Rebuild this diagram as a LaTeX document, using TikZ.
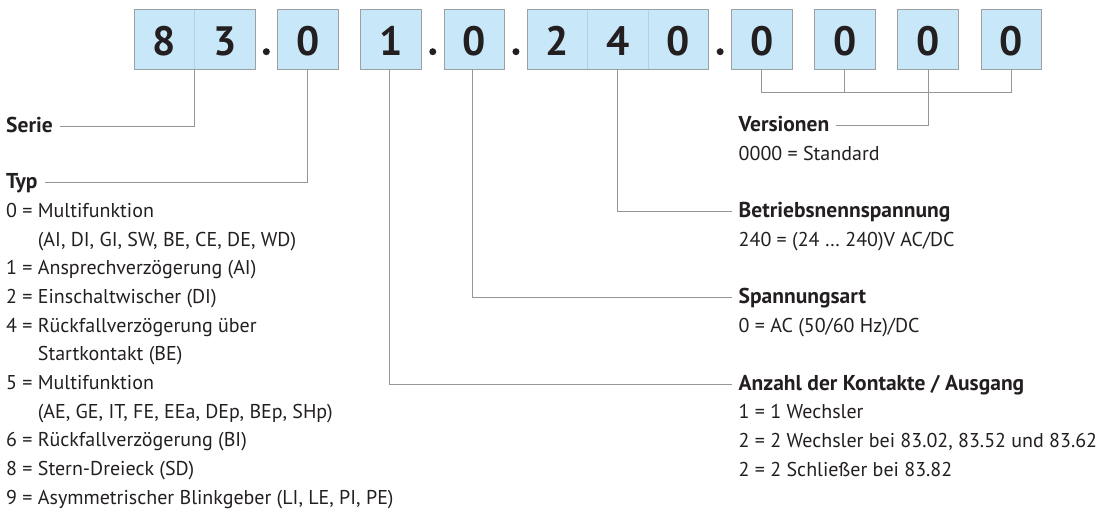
\documentclass[tikz,border=0pt]{standalone}
\usepackage{fontspec}
\setmainfont{PT Sans}
\usetikzlibrary{positioning}
\definecolor{boxfill}{RGB}{200,232,249}
\definecolor{boxline}{RGB}{155,160,163}
\definecolor{cellline}{RGB}{178,210,228}
\definecolor{linegray}{RGB}{150,150,150}
\definecolor{ink}{RGB}{35,31,32}
\tikzstyle{digit}=[draw=boxline,fill=boxfill,line width=1pt,minimum width=60.5pt,minimum height=60pt,inner sep=0pt,outer sep=0pt,text height=32pt,text depth=0pt,font=\fontsize{41}{41}\selectfont\bfseries,text=ink]
\tikzstyle{divider}=[draw=cellline,line width=1pt,shorten <=0.5pt,shorten >=0.5pt]
\tikzstyle{period}=[circle,fill=ink,minimum size=7pt,inner sep=0pt]
\tikzstyle{head}=[anchor=base west,inner sep=0pt,text height=12pt,text depth=0pt,font=\fontsize{21.5}{28.7}\selectfont\bfseries,text=ink]
\tikzstyle{desc}=[align=left,inner sep=0pt,font=\fontsize{20}{28.7}\selectfont,text=ink]
\tikzstyle{conn}=[draw=linegray,line width=1pt,shorten >=7pt]
\tikzstyle{bus}=[draw=linegray,line width=1pt]

\begin{document}
\begin{tikzpicture}[x=1pt,y=-1pt,node distance=22.7pt]
    \useasboundingbox (0,0) rectangle (1103,514);

    % code boxes
    \node[digit] (b8) at (164.25,39.2) {8};
    \node[digit] (b3) [right=0pt of b8] {3};
    \node[digit] (t0) [right=of b3]     {0};
    \node[digit] (k1) [right=of t0]     {1};
    \node[digit] (s0) [right=of k1]     {0};
    \node[digit] (u2) [right=of s0]     {2};
    \node[digit] (u4) [right=0pt of u2] {4};
    \node[digit] (u0) [right=0pt of u4] {0};
    \node[digit] (v1) [right=of u0]     {0};
    \node[digit] (v2) [right=of v1]     {0};
    \node[digit] (v3) [right=of v2]     {0};
    \node[digit] (v4) [right=of v3]     {0};

    \draw[divider] (b8.north east) -- (b8.south east);
    \draw[divider] (u2.north east) -- (u2.south east);
    \draw[divider] (u4.north east) -- (u4.south east);

    \node[period] (p1) at ([shift={(11.35pt,17.5pt)}]b3.south east) {};
    \node[period] (p2) at ([shift={(11.35pt,17.5pt)}]k1.south east) {};
    \node[period] (p3) at ([shift={(11.35pt,17.5pt)}]s0.south east) {};
    \node[period] (p4) at ([shift={(11.35pt,17.5pt)}]u0.south east) {};

    % labels
    \node[head] (serie) at (6,132)       {Serie};
    \node[head] (typ)   at (6,188.5)     {Typ};
    \node[head] (vers)  at (738.5,131.7) {Versionen};
    \node[head] (betr)  at (738.5,217.5) {Betriebsnennspannung};
    \node[head] (span)  at (738.5,303.8) {Spannungsart};
    \node[head] (anz)   at (738.5,390)   {Anzahl der Kontakte / Ausgang};

    \node[desc] (typlist) [below right=8.6pt and 0pt of typ.base west]
        {\strut 0 = Multifunktion\\ \phantom{0 = }(AI, DI, GI, SW, BE, CE, DE, WD)\\
         1 = Ansprechverzögerung (AI)\\ 2 = Einschaltwischer (DI)\\
         4 = Rückfallverzögerung über\\ \phantom{4 = }Startkontakt (BE)\\
         5 = Multifunktion\\ \phantom{5 = }(AE, GE, IT, FE, EEa, DEp, BEp, SHp)\\
         6 = Rückfallverzögerung (BI)\\ 8 = Stern-Dreieck (SD)\\
         9 = Asymmetrischer Blinkgeber (LI, LE, PI, PE)};
    \node[desc] (verslist) [below right=8.6pt and 0pt of vers.base west] {\strut 0000 = Standard};
    \node[desc] (betrlist) [below right=8.6pt and 0pt of betr.base west] {\strut 240 = (24 … 240)V AC/DC};
    \node[desc] (spanlist) [below right=8.6pt and 0pt of span.base west] {\strut 0 = AC (50/60 Hz)/DC};
    \node[desc] (anzlist)  [below right=8.6pt and 0pt of anz.base west]
        {\strut 1 = 1 Wechsler\\ 2 = 2 Wechsler bei 83.02, 83.52 und 83.62\\ 2 = 2 Schließer bei 83.82};

    % connectors
    \draw[conn] (b8.south east) |- (serie.east);
    \draw[conn] (t0.south) |- (typ.east);
    \draw[conn] ([xshift=-2pt]k1.south) |- (anz.west);
    \draw[conn] ([xshift=-2pt]s0.south) |- (span.west);
    \draw[conn] ([xshift=-1pt]u4.south) |- (betr.west);
    \draw[bus]  (v1.south) -- ++(0,23.3) -| (v4.south);
    \draw[bus]  (v2.south) -- ++(0,23.3);
    \draw[conn] (v3.south) |- (vers.east);

\end{tikzpicture}
\end{document}
